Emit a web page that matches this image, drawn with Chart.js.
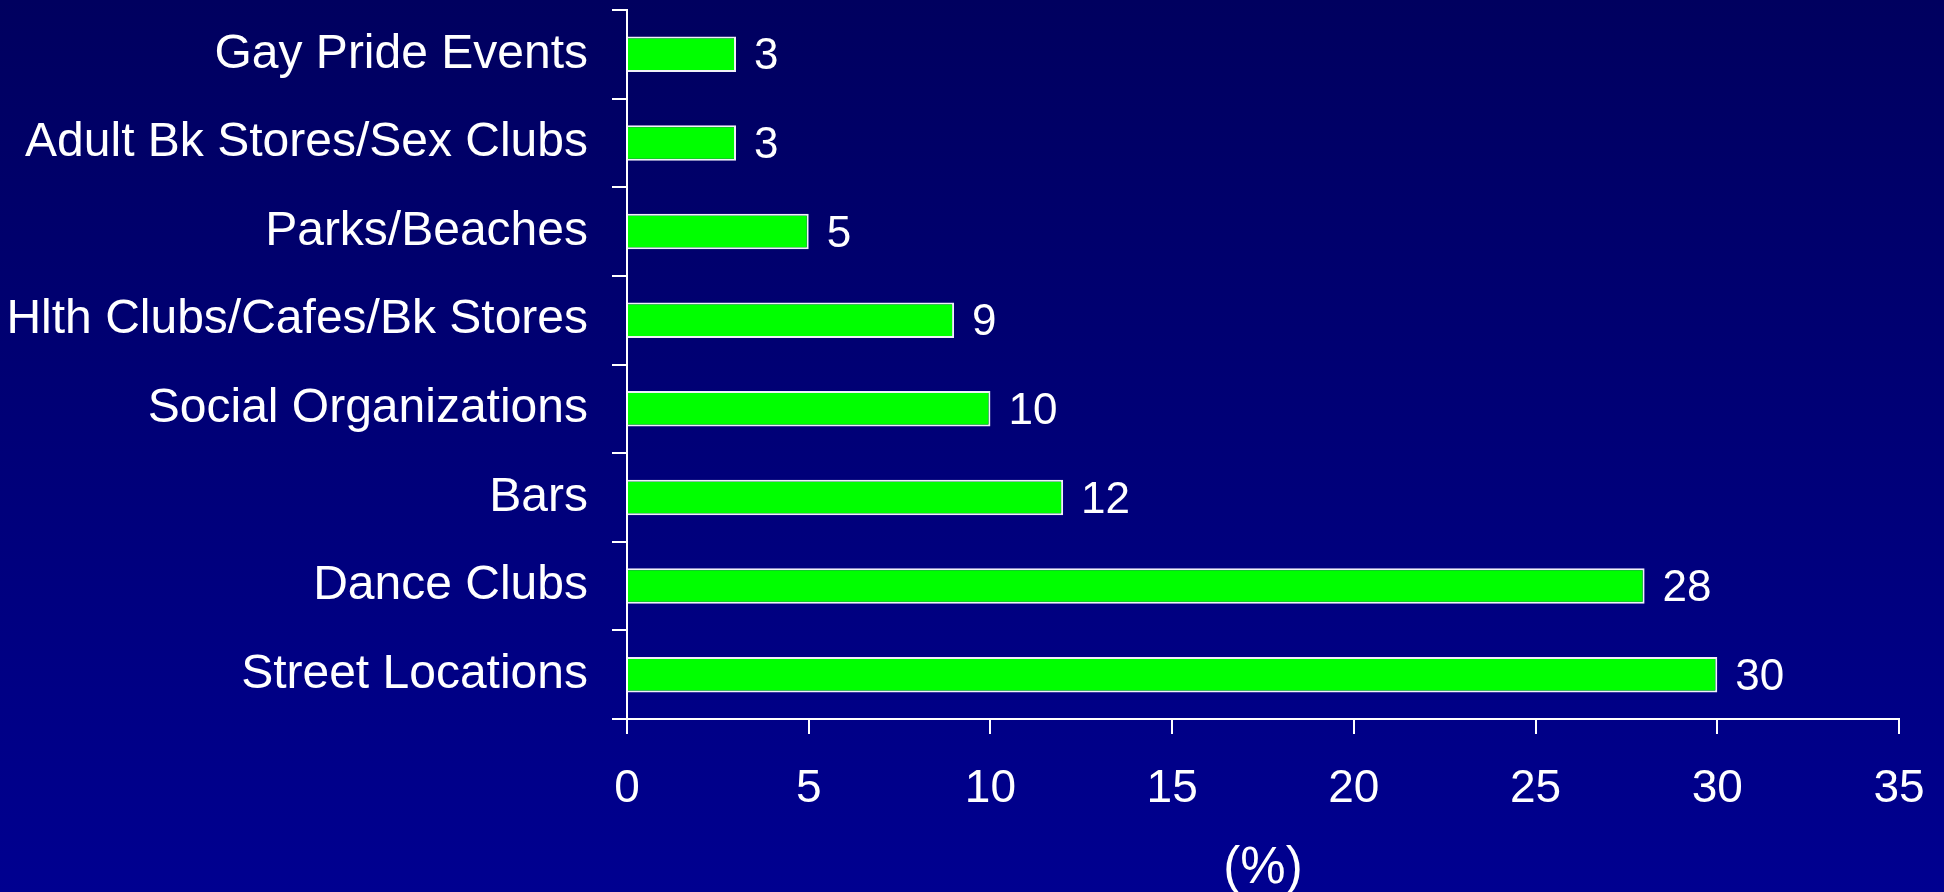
<!DOCTYPE html>
<html>
<head>
<meta charset="utf-8">
<script src="https://cdn.jsdelivr.net/npm/chart.js@4/dist/chart.umd.min.js"></script>
<style>
    html, body { margin: 0; padding: 0; }
    body {
        width: 1944px;
        height: 892px;
        background: linear-gradient(to bottom, #00005f 0%, #000090 100%);
        overflow: hidden;
    }
    #wrap { position: relative; width: 1944px; height: 892px; }
</style>
</head>
<body>
<div id="wrap"><canvas id="venueChart"></canvas></div>
<script>
// Venues where respondents were recruited (%)
const venues = [
    'Gay Pride Events',
    'Adult Bk Stores/Sex Clubs',
    'Parks/Beaches',
    'Hlth Clubs/Cafes/Bk Stores',
    'Social Organizations',
    'Bars',
    'Dance Clubs',
    'Street Locations'
];
const percents = [3, 3, 5, 9, 10, 12, 28, 30];
const xTicks = [0, 5, 10, 15, 20, 25, 30, 35];

const FONT = 'Liberation Sans, Arial, sans-serif';

// draw the value next to the end of each bar
const valueLabels = {
    id: 'valueLabels',
    afterDatasetsDraw(chart) {
        const { ctx } = chart;
        const meta = chart.getDatasetMeta(0);
        ctx.save();
        ctx.fillStyle = '#ffffff';
        ctx.font = `44px ${FONT}`;
        ctx.textAlign = 'left';
        ctx.textBaseline = 'middle';
        meta.data.forEach((bar, i) => {
            ctx.fillText(String(percents[i]), bar.x + 18, bar.y + 3);
        });
        ctx.restore();
    }
};

new Chart(document.getElementById('venueChart'), {
    type: 'bar',
    data: {
        labels: venues,
        datasets: [{
            data: percents,
            backgroundColor: '#00ff00',
            borderColor: '#f0f0f8',
            borderWidth: 2,
            categoryPercentage: 1,
            barPercentage: 0.4
        }]
    },
    options: {
        indexAxis: 'y',
        responsive: true,
        maintainAspectRatio: false,
        animation: false,
        layout: { padding: { top: 10, right: 45, bottom: 0, left: 0 } },
        plugins: {
            legend: { display: false },
            tooltip: { enabled: false }
        },
        scales: {
            y: {
                grid: {
                    drawOnChartArea: false,
                    offset: true,
                    color: '#ffffff',
                    lineWidth: 2,
                    tickLength: 15
                },
                border: { color: '#ffffff', width: 2 },
                ticks: {
                    color: '#ffffff',
                    font: { family: FONT, size: 48 },
                    padding: 24
                },
                afterFit(scale) {
                    scale.width = 627;
                    scale.paddingTop = 0;
                    scale.paddingBottom = 0;
                }
            },
            x: {
                min: 0,
                max: 35,
                afterBuildTicks(scale) {
                    scale.ticks = xTicks.map(v => ({ value: v }));
                },
                grid: {
                    drawOnChartArea: false,
                    color: '#ffffff',
                    lineWidth: 2,
                    tickLength: 15
                },
                border: { color: '#ffffff', width: 2 },
                ticks: {
                    color: '#ffffff',
                    font: { family: FONT, size: 46 },
                    padding: 28,
                    maxRotation: 0
                },
                title: {
                    display: true,
                    text: '(%)',
                    color: '#ffffff',
                    font: { family: FONT, size: 51, lineHeight: 0.9 },
                    padding: { top: 0, bottom: 0 }
                },
                afterFit(scale) {
                    scale.height = 173;
                    scale.paddingLeft = 0;
                    scale.paddingRight = 0;
                }
            }
        }
    },
    plugins: [valueLabels]
});
</script>
</body>
</html>
